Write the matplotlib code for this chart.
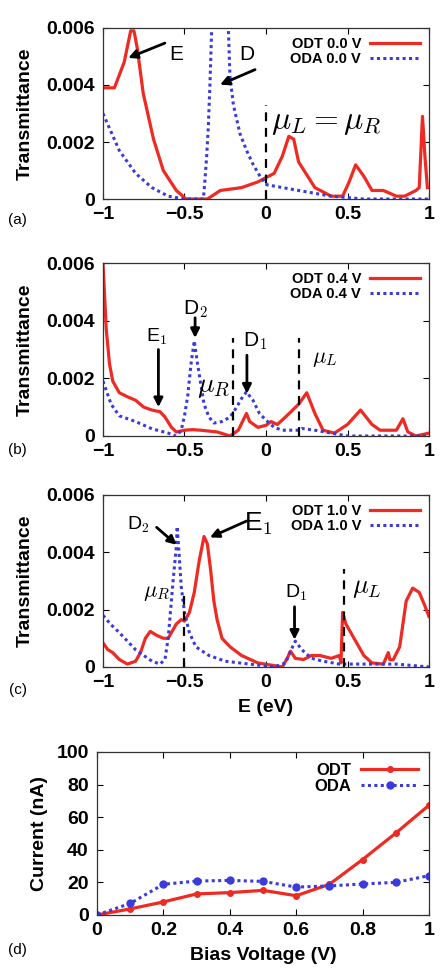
import matplotlib
matplotlib.use("Agg")
import matplotlib.pyplot as plt

plt.rcParams['font.family'] = ['Liberation Sans', 'DejaVu Sans']
plt.rcParams['mathtext.fontset'] = 'cm'

RED = '#ee2a22'
BLUE = '#3b3bdc'

# ---- (a) 0.0 V ----
odt_a_x = [-1.0, -0.93, -0.87, -0.83, -0.81, -0.79, -0.753, -0.69, -0.63, -0.55, -0.49, -0.42, -0.36,
           -0.28, -0.15, -0.05, 0.05, 0.1, 0.14, 0.17, 0.2, 0.3, 0.4, 0.47, 0.51, 0.55, 0.6, 0.65, 0.72,
           0.8, 0.85, 0.92, 0.94, 0.96, 0.975, 0.99]
odt_a_y = [0.0039, 0.0039, 0.0048, 0.0059, 0.0059, 0.0053, 0.0037, 0.0021, 0.0010, 0.0003, 0.0, 0.0, 0.0,
           0.0003, 0.0004, 0.0006, 0.0009, 0.0015, 0.0022, 0.0021, 0.0013, 0.0004, 0.0001, 0.0001, 0.0006,
           0.0012, 0.0008, 0.0003, 0.0003, 0.0001, 0.0001, 0.0003, 0.0004, 0.0029, 0.0015, 0.0004]
oda_a_x = [-1.0, -0.9, -0.8, -0.7, -0.6, -0.5, -0.42, -0.384, -0.374, -0.364, -0.354, -0.344, -0.333,
           -0.28, -0.231, -0.221, -0.2, -0.16, -0.119, -0.078, -0.037, 0.004, 0.2, 0.4, 0.6, 1.0]
oda_a_y = [0.0030, 0.0017, 0.0009, 0.0004, 0.0001, 0.0, 0.0, 0.0, 0.0007, 0.0015, 0.0025, 0.0040, 0.0060,
           0.0200, 0.0060, 0.0043, 0.0033, 0.0023, 0.0017, 0.0012, 0.0008, 0.0005, 0.0003, 0.0001, 0.0, 0.0]

# ---- (b) 0.4 V ----
odt_b_x = [-1.0, -0.98, -0.96, -0.94, -0.9, -0.85, -0.8, -0.75, -0.7, -0.65, -0.62, -0.58, -0.55, -0.5,
           -0.45, -0.4, -0.3, -0.22, -0.17, -0.12, -0.1, -0.05, 0.0, 0.03, 0.07, 0.12, 0.2, 0.25, 0.3,
           0.35, 0.42, 0.5, 0.58, 0.65, 0.7, 0.8, 0.84, 0.87, 0.92, 1.0]
odt_b_y = [0.0060, 0.0037, 0.0025, 0.0019, 0.0015, 0.00136, 0.00124, 0.0010, 0.0009, 0.00084, 0.00066,
           0.0003, 0.00014, 0.0002, 0.00022, 0.0002, 0.00014, 0.0, 0.0002, 0.00078, 0.0005, 0.0003,
           0.00037, 0.0005, 0.0004, 0.00066, 0.0011, 0.0015, 0.00078, 0.0002, 0.0001, 0.0004, 0.0009,
           0.0004, 0.0002, 0.0002, 0.0006, 0.00014, 0.0, 0.0001]
oda_b_x = [-1.0, -0.95, -0.9, -0.85, -0.8, -0.7, -0.6, -0.55, -0.52, -0.5, -0.48, -0.46, -0.44, -0.42,
           -0.4, -0.38, -0.35, -0.32, -0.27, -0.22, -0.18, -0.15, -0.12, -0.08, -0.04, 0.0, 0.05, 0.1,
           0.2, 0.22, 0.3, 0.4, 0.5, 1.0]
oda_b_y = [0.0019, 0.0011, 0.0007, 0.0006, 0.0005, 0.00025, 0.0001, 0.0, 0.0002, 0.0007, 0.0014, 0.0025,
           0.0033, 0.0025, 0.0018, 0.0011, 0.00066, 0.00045, 0.0005, 0.00066, 0.0010, 0.0013, 0.00153,
           0.00124, 0.00078, 0.00055, 0.0003, 0.0002, 0.0002, 0.00026, 0.0002, 0.0001, 0.0, 0.0]

# ---- (c) 1.0 V ----
odt_c_x = [-1.0, -0.97, -0.94, -0.9, -0.85, -0.8, -0.77, -0.74, -0.71, -0.67, -0.63, -0.6, -0.55, -0.52,
           -0.5, -0.47, -0.44, -0.41, -0.38, -0.36, -0.34, -0.32, -0.3, -0.27, -0.22, -0.15, -0.05, 0.1,
           0.13, 0.15, 0.18, 0.23, 0.28, 0.33, 0.4, 0.45, 0.46, 0.47, 0.49, 0.52, 0.55, 0.6, 0.65, 0.72,
           0.75, 0.76, 0.78, 0.82, 0.86, 0.9, 0.94, 0.97, 1.0]
odt_c_y = [0.00084, 0.0006, 0.0005, 0.00026, 0.0001, 0.0002, 0.0005, 0.0010, 0.00124, 0.0011, 0.0010,
           0.0010, 0.0015, 0.00165, 0.0016, 0.0019, 0.0026, 0.0037, 0.00455, 0.0043, 0.0034, 0.0023,
           0.00165, 0.0010, 0.0007, 0.0004, 0.00014, 0.0, 0.0003, 0.00055, 0.0003, 0.00026, 0.0004,
           0.0004, 0.0003, 0.0004, 0.00014, 0.0019, 0.0015, 0.0012, 0.0009, 0.0004, 0.00014, 0.0001,
           0.0005, 0.00025, 0.00025, 0.0007, 0.0023, 0.00275, 0.0026, 0.0022, 0.00176]
oda_c_x = [-1.0, -0.95, -0.9, -0.85, -0.8, -0.75, -0.7, -0.65, -0.62, -0.6, -0.585, -0.57, -0.55, -0.545,
           -0.535, -0.52, -0.5, -0.47, -0.43, -0.35, -0.25, -0.1, 0.05, 0.12, 0.15, 0.18, 0.22, 0.28,
           0.35, 0.45, 0.55, 0.7, 0.8, 1.0]
oda_c_y = [0.0018, 0.00147, 0.0012, 0.0009, 0.0006, 0.0004, 0.0002, 0.0001, 0.00026, 0.0010, 0.0020,
           0.0030, 0.0042, 0.0049, 0.0041, 0.0028, 0.0019, 0.0012, 0.0007, 0.0004, 0.0002, 0.0001, 0.0,
           0.00014, 0.00055, 0.0009, 0.0006, 0.0003, 0.0002, 0.0001, 0.0001, 0.0001, 0.0001, 0.0]

# ---- (d) I-V ----
bias = [0.0, 0.1, 0.2, 0.3, 0.4, 0.5, 0.6, 0.7, 0.8, 0.9, 1.0]
odt_current = [0.0, 3.7, 8.0, 12.9, 13.7, 15.1, 11.8, 18.8, 34.0, 50.2, 67.3]
oda_current = [0.0, 7.1, 18.8, 20.8, 21.2, 20.6, 17.1, 17.8, 19.0, 20.0, 24.1]

# chemical potential markers (x, top of dashed line)
mu_a = [(0.0, 0.0033)]
mu_b = [(-0.2, 0.0034), (0.2, 0.0034)]
mu_c = [(-0.5, 0.0026), (0.48, 0.0034)]

e_ticks = [-1, -0.5, 0, 0.5, 1]
e_ticklabels = ['\u22121', '\u22120.5', '0', '0.5', '1']
t_ticks = [0, 0.002, 0.004, 0.006]
t_ticklabels = ['0', '0.002', '0.004', '0.006']

TICK_FS = 14
LABEL_FS = 14


def style(ax):
    ax.tick_params(direction='in', top=True, right=True, length=4, width=0.8, labelsize=TICK_FS)
    ax.tick_params(axis='x', pad=5)
    ax.tick_params(axis='y', pad=6)
    for lab in ax.get_xticklabels() + ax.get_yticklabels():
        lab.set_fontweight('bold')
    for s in ax.spines.values():
        s.set_linewidth(0.9)
        s.set_color('#333333')


def trans_panel(ax, ox, oy, dx, dy, mus, volt):
    ax.plot(ox, oy, color=RED, lw=2.3, label='ODT %s V' % volt)
    ax.plot(dx, dy, color=BLUE, lw=2.2, linestyle=(0, (1, 1.1)), label='ODA %s V' % volt)
    for x, top in mus:
        ax.plot([x, x], [0, top], color='black', lw=1.6, linestyle=(0, (4, 3)))
    ax.set_xlim(-1, 1)
    ax.set_ylim(0, 0.006)
    ax.set_xticks(e_ticks)
    ax.set_xticklabels(e_ticklabels)
    ax.set_yticks(t_ticks)
    ax.set_yticklabels(t_ticklabels)
    ax.set_ylabel('Transmittance', fontsize=LABEL_FS, fontweight='bold', labelpad=9)
    style(ax)
    ax.legend(loc='upper right', frameon=False, markerfirst=False, handlelength=3.4,
              handletextpad=0.6, labelspacing=0.05, borderaxespad=0.25,
              prop={'weight': 'bold', 'size': 10.5})


def arrow(ax, tail, head):
    ax.annotate('', xy=head, xytext=tail,
                arrowprops=dict(arrowstyle='-|>', color='black', lw=2.0, mutation_scale=13,
                                shrinkA=0, shrinkB=0))


fig = plt.figure(figsize=(4.42, 9.68), dpi=100)

ax_a = fig.add_axes([0.233, 0.7944, 0.7376, 0.1767])
ax_b = fig.add_axes([0.233, 0.5496, 0.7376, 0.1787])
ax_c = fig.add_axes([0.233, 0.3110, 0.7376, 0.1777])
ax_d = fig.add_axes([0.2195, 0.0548, 0.751, 0.1684])

# (a)
trans_panel(ax_a, odt_a_x, odt_a_y, oda_a_x, oda_a_y, mu_a, '0.0')
ax_a.text(-0.55, 0.00506, 'E', fontsize=15, ha='center', va='center')
arrow(ax_a, (-0.62, 0.00547), (-0.845, 0.00495))
ax_a.text(-0.12, 0.00506, 'D', fontsize=15, ha='center', va='center')
arrow(ax_a, (-0.067, 0.00454), (-0.282, 0.00401))
ax_a.text(0.03, 0.0027, r'$\mu_L = \mu_R$', fontsize=23, ha='left', va='center')

# (b)
trans_panel(ax_b, odt_b_x, odt_b_y, oda_b_x, oda_b_y, mu_b, '0.4')
ax_b.text(-0.67, 0.00345, r'E$_1$', fontsize=14, ha='center', va='center')
arrow(ax_b, (-0.66, 0.0030), (-0.66, 0.0010))
ax_b.text(-0.435, 0.0044, r'D$_2$', fontsize=15, ha='center', va='center')
arrow(ax_b, (-0.435, 0.0041), (-0.435, 0.0034))
ax_b.text(-0.07, 0.0033, r'D$_1$', fontsize=15, ha='center', va='center')
arrow(ax_b, (-0.117, 0.0028), (-0.117, 0.00147))
ax_b.text(-0.32, 0.0017, r'$\mu_R$', fontsize=20, ha='center', va='center')
ax_b.text(0.36, 0.0027, r'$\mu_L$', fontsize=16, ha='center', va='center')

# (c)
trans_panel(ax_c, odt_c_x, odt_c_y, oda_c_x, oda_c_y, mu_c, '1.0')
ax_c.text(-0.78, 0.00495, r'D$_2$', fontsize=14, ha='center', va='center')
arrow(ax_c, (-0.671, 0.00487), (-0.548, 0.00426))
ax_c.text(-0.05, 0.0050, r'E$_1$', fontsize=19, ha='center', va='center')
arrow(ax_c, (-0.119, 0.00509), (-0.344, 0.00452))
ax_c.text(-0.67, 0.0026, r'$\mu_R$', fontsize=16, ha='center', va='center')
ax_c.text(0.185, 0.0026, r'D$_1$', fontsize=14, ha='center', va='center')
arrow(ax_c, (0.175, 0.0021), (0.175, 0.00095))
ax_c.text(0.62, 0.00275, r'$\mu_L$', fontsize=19, ha='center', va='center')
ax_c.set_xlabel('E (eV)', fontsize=LABEL_FS, fontweight='bold', labelpad=6)

# (d)
ax_d.plot(bias, odt_current, color=RED, lw=2.3, marker='o', markersize=4, label='ODT')
ax_d.plot(bias, oda_current, color=BLUE, lw=2.2, linestyle=(0, (1, 1.1)), marker='o', markersize=5,
          label='ODA')
ax_d.set_xlim(0, 1)
ax_d.set_ylim(0, 100)
ax_d.set_xticks([0, 0.2, 0.4, 0.6, 0.8, 1.0])
ax_d.set_xticklabels(['0', '0.2', '0.4', '0.6', '0.8', '1'])
ax_d.set_yticks([0, 20, 40, 60, 80, 100])
ax_d.set_xlabel('Bias Voltage (V)', fontsize=LABEL_FS, fontweight='bold', labelpad=6)
ax_d.set_ylabel('Current (nA)', fontsize=LABEL_FS, fontweight='bold', labelpad=6)
style(ax_d)
ax_d.legend(loc='upper right', frameon=False, markerfirst=False, handlelength=3.4,
            handletextpad=0.6, labelspacing=0.05, borderaxespad=0.25,
            prop={'weight': 'bold', 'size': 12})

# panel labels
for lab, y in [('(a)', 0.773), ('(b)', 0.535), ('(c)', 0.287), ('(d)', 0.0186)]:
    fig.text(0.04, y, lab, fontsize=11, ha='center', va='center')

fig.savefig('out.png', dpi=100)
